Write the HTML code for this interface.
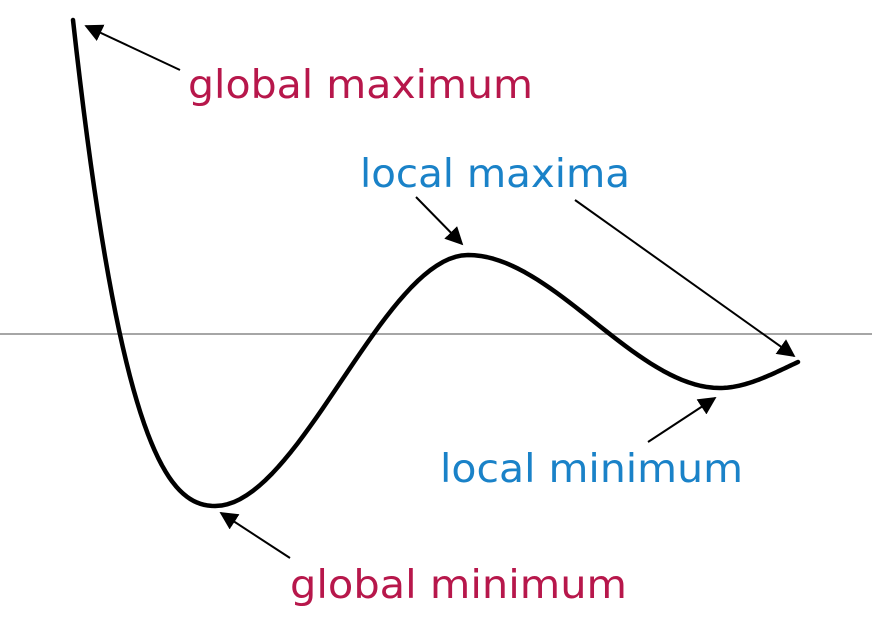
<!DOCTYPE html>
<html><head><meta charset="utf-8"><style>
html,body{margin:0;padding:0;background:#fff;width:894px;height:631px;overflow:hidden}
text{font-family:"DejaVu Sans","Liberation Sans",sans-serif;font-size:39px}
</style></head><body>
<svg id="chart" width="894" height="631" viewBox="0 0 894 631" xmlns="http://www.w3.org/2000/svg">
<defs><marker id="ah" viewBox="0 0 10 10" refX="9" refY="5" markerWidth="9" markerHeight="9" orient="auto-start-reverse"><path d="M0,0 L10,5 L0,10 z" fill="#000"/></marker></defs>
<line x1="0" y1="334" x2="872" y2="334" stroke="#888" stroke-width="1.5"/>
<path id="curve" fill="none" stroke="#000" stroke-width="4.5" stroke-linejoin="round" stroke-linecap="round"/>
<g>
<line x1="180" y1="70" x2="86" y2="26" stroke="#000" stroke-width="2" marker-end="url(#ah)"/>
<text x="188" y="98" fill="#b7174b" textLength="345" lengthAdjust="spacingAndGlyphs">global maximum</text>
<text x="360" y="187" fill="#1a82c8" textLength="270" lengthAdjust="spacingAndGlyphs">local maxima</text>
<line x1="416" y1="197" x2="462" y2="244" stroke="#000" stroke-width="2" marker-end="url(#ah)"/>
<line x1="575" y1="200" x2="794" y2="356" stroke="#000" stroke-width="2" marker-end="url(#ah)"/>
<line x1="648" y1="442" x2="715" y2="398" stroke="#000" stroke-width="2" marker-end="url(#ah)"/>
<text x="440" y="482" fill="#1a82c8" textLength="303" lengthAdjust="spacingAndGlyphs">local minimum</text>
<line x1="290" y1="558" x2="221" y2="513" stroke="#000" stroke-width="2" marker-end="url(#ah)"/>
<text x="290" y="598" fill="#b7174b" textLength="337" lengthAdjust="spacingAndGlyphs">global minimum</text>
</g>
</svg>
<script>
// key points: start, global min, local max, local min, end
const xValues=[0,1.96,5.45,8.92,10];
const yValues=[3.14,-1.72,0.79,-0.54,-0.28];
const slopes=[-6.55,0,0,0,0.34];
function xScale(x){return 73+x*72.5;}
function yScale(y){return 334-y*100;}
let d="";
for(let i=0;i<xValues.length-1;i++){
  const h=xValues[i+1]-xValues[i];
  for(let k=(i?1:0);k<=40;k++){
    const t=k/40, t2=t*t, t3=t2*t;
    const y=(2*t3-3*t2+1)*yValues[i]+(t3-2*t2+t)*h*slopes[i]+(-2*t3+3*t2)*yValues[i+1]+(t3-t2)*h*slopes[i+1];
    const x=xValues[i]+t*h;
    d+=(d?" L":"M")+xScale(x).toFixed(2)+","+yScale(y).toFixed(2);
  }
}
document.getElementById('curve').setAttribute('d',d);
</script>
</body></html>
